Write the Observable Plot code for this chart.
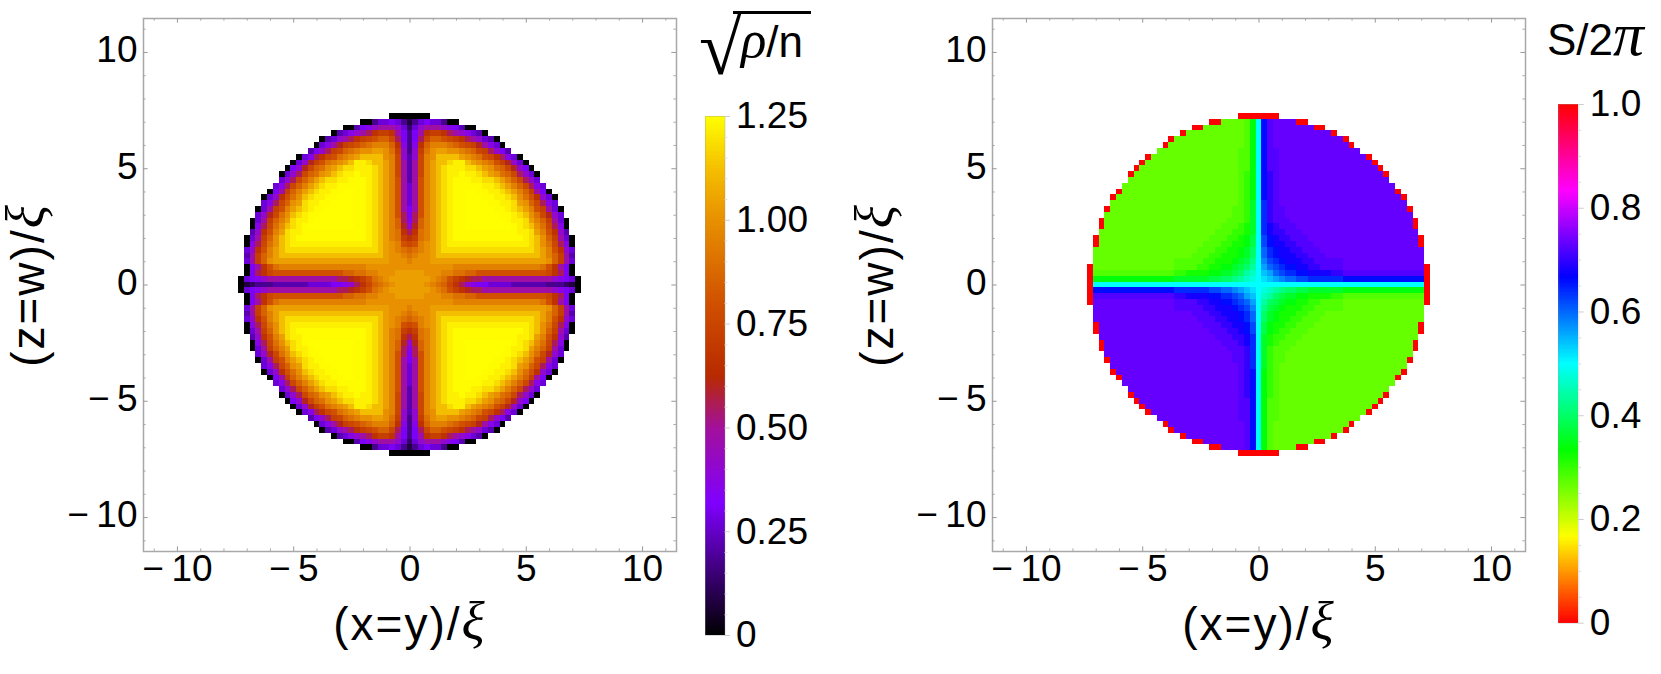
<!DOCTYPE html>
<html>
<head>
<meta charset="utf-8">
<script src="https://cdn.jsdelivr.net/npm/d3@7"></script>
<script src="https://cdn.jsdelivr.net/npm/@observablehq/plot@0.6"></script>
<style>
html,body{margin:0;padding:0;background:#fff;overflow:hidden}
#page{position:relative;width:1661px;height:674px;font-family:"Liberation Sans",sans-serif;color:#000}
#page svg{position:absolute;top:0;background:transparent;overflow:visible}
.title{position:absolute;white-space:nowrap;line-height:1;font-size:44px}
.title i{font-family:"Liberation Serif",serif;font-style:italic;line-height:0}
</style>
</head>
<body>
<div id="page">
  <div class="title" style="left:699px;top:9px;font-family:'Liberation Serif',serif;font-size:78px">√</div>
  <div class="title" style="left:741px;top:20px"><i style="font-size:1.2em">ρ</i>/n</div>
  <div id="rootbar" style="position:absolute;left:733px;top:11px;width:78px;height:3px;background:#000"></div>
  <div class="title" style="left:1547px;top:18px">S/2<i style="font-size:1.4em">π</i></div>
</div>
<script>
// Density sqrt(rho/n), upper-left quadrant, rows from the centre outward, columns from the centre outward.
// Each letter picks one entry of densityLevels.
const densityLevels = [0,0.08,0.13,0.18,0.22,0.27,0.31,0.36,0.41,0.48,0.55,0.6,0.66,0.72,0.76,0.8,0.86,0.9,0.95,1.0,1.04,1.12,1.18,1.22,1.245,1.25];
const densityRows = [
 "uuutsrqomkihggffffeeeeeedddcba",
 "uuuutsrpnmlkkjjjjjjjjjjjjihgfa",
 "uuutttssrrqqppppppppppppomkga",
 "ttttttttsssssssssssssssrpmjga",
 "stttuuuuuuuuuuuuuuuuuuuutqnjf",
 "rsttuvvvvvvvvvvvvvvvvvvusqnje",
 "qrstuvwwwwwwwwwwwwwwwwvuspmif",
 "opstuvwxxxxxxxxxxxxxxwvtrokha",
 "mnrsuvwxyyyyyyyyyyyyxwvtqnjfa",
 "kmrsuvwxyyyyyyyyyyyxxwuspmie",
 "ilqsuvwxyyzzzzzzzzyxwvtrokha",
 "hkqsuvwxyyzzzzzzzyxxwusqnjfa",
 "gkpsuvwxyyzzzzzzyyxwvtrolif",
 "gjpsuvwxyyzzzzzyyxwvuspnjfa",
 "fjpsuvwxyyzzzzyyxxwutqokhf",
 "fjpsuvwxyyzzzyyxxwvtrpmifa",
 "fjpsuvwxyyzzyyxxwvusqnjga",
 "fjpsuvwxyyyyyxxwvusqokhf",
 "ejpsuvwxyyyxxwwvusqokif",
 "ejosuvwxxyxxwvutrqokifa",
 "ejosuvwxxxwwvutrqoliga",
 "ejosuvvwxxvutsrpnlifa",
 "eiostvvvvutsrpomkhfa",
 "dinrtuuttsrqonkige",
 "dhmqsssrqponljhfa",
 "dgkoqqponmkjifea",
 "dgjmnnmkjihfea",
 "cfijjjihgeaa",
 "bdfgffdaa",
 "aaaa"
];
// Phase S/2pi, same quadrant. Each hex digit indexes phaseLevels.
const phaseLevels = [0, 0.267, 0.28, 0.30, 0.32, 0.34, 0.36, 0.38, 0.40, 0.42, 0.44, 0.46, 0.48, 0.50];
const phaseRows = [
 "ddddddddddddddddddddddddddddd0",
 "dcba98877666666555555555555550",
 "dba876655444433222222222222220",
 "da8765544332222111111111111110",
 "d9765444332222211111111111111",
 "d8654443322211111111111111111",
 "d8654433222111111111111111111",
 "d7544332221111111111111111110",
 "d7543322211111111111111111110",
 "d643322211111111111111111111",
 "d643222111111111111111111110",
 "d632221111111111111111111110",
 "d63221111111111111111111111",
 "d63221111111111111111111110",
 "d63211111111111111111111".padEnd(26,"1"),
 "d532111111111111111111111"+"0",
 "d53211111111111111111111"+"0",
 "d53211111111111111111111",
 "d5321111111111111111111",
 "d532111111111111111111"+"0",
 "d52211111111111111111"+"0",
 "d5221111111111111111"+"0",
 "d522111111111111111"+"0",
 "d52211111111111111",
 "d521111111111111"+"0",
 "d52111111111111"+"0",
 "d521111111111"+"0",
 "d52111111100",
 "d52111100",
 "0000"
];
const gridStep = 0.25;
const axisHalfRange = 11.46;
const majorTicks = [-10, -5, 0, 5, 10];
const minorTicks = [-11,-9,-8,-7,-6,-4,-3,-2,-1,1,2,3,4,6,7,8,9,11];
const densityBarStops  = [0, 0.16, 0.318, 0.5, 0.625, 0.8, 1.0, 1.125, 1.25];
const densityBarColors = ["#000000","#40007f","#8000ff","#a3109a","#b82a00","#d05000","#e89000","#f5c000","#ffff00"];
const phaseBarStops  = [0, 0.1667, 0.3333, 0.5, 0.6667, 0.8333, 1];
const phaseBarColors = ["#ff0000","#ffff00","#00ff00","#00ffff","#0000ff","#ff00ff","#ff0000"];
const densityBarMajor = [0, 0.25, 0.5, 0.75, 1, 1.25];
const phaseBarMajor = [0, 0.2, 0.4, 0.6, 0.8, 1];
const densityBarMinor = [0.05,0.1,0.15,0.2,0.3,0.35,0.4,0.45,0.55,0.6,0.65,0.7,0.8,0.85,0.9,0.95,1.05,1.1,1.15,1.2];
const phaseBarMinor = [0.05,0.1,0.15,0.25,0.3,0.35,0.45,0.5,0.55,0.65,0.7,0.75,0.85,0.9,0.95];

const densityValue = ch => densityLevels[ch.charCodeAt(0) - 97];
const phaseValue = ch => phaseLevels[parseInt(ch, 16)];

function expandQuadrant(rows, valueOf, flip) {
  const cells = [];
  rows.forEach((row, r) => {
    [...row].forEach((ch, c) => {
      const v = valueOf(ch);
      for (const sy of r ? [1, -1] : [1]) for (const sx of c ? [-1, 1] : [-1]) {
        // sx=-1,sy=1 is the quadrant that was read
        const same = (sx === -1) === (sy === 1);
        cells.push({x: sx * c * gridStep, y: sy * r * gridStep, v: same ? v : flip(v)});
      }
    });
  });
  return cells;
}

const FONT = "Liberation Sans";
const minus = d => d < 0 ? "\u2212\u2009" + Math.abs(d) : String(d);

function frameTicks(values, len, sw) {
  const e = axisHalfRange;
  return [
    Plot.ruleX(values, {y1: -e, y2: -e + len, stroke: "#999", strokeWidth: sw}),
    Plot.ruleX(values, {y1: e, y2: e - len, stroke: "#999", strokeWidth: sw}),
    Plot.ruleY(values, {x1: -e, x2: -e + len, stroke: "#999", strokeWidth: sw}),
    Plot.ruleY(values, {x1: e, x2: e - len, stroke: "#999", strokeWidth: sw})
  ];
}

function panel({cells, stops, colors, left, width, marginLeft, xLabel, yLabel, yLabelDx}) {
  const svg = Plot.plot({
    width, height: 674,
    marginLeft, marginRight: width - marginLeft - 533, marginTop: 18, marginBottom: 123,
    style: {fontFamily: FONT, background: "transparent", overflow: "visible"},
    x: {domain: [-axisHalfRange, axisHalfRange], axis: null},
    y: {domain: [-axisHalfRange, axisHalfRange], axis: null},
    color: {type: "linear", domain: stops, range: colors, interpolate: "rgb", clamp: true},
    marks: [
      Plot.rect(cells, {
        x1: d => d.x - gridStep / 2, x2: d => d.x + gridStep / 2,
        y1: d => d.y - gridStep / 2, y2: d => d.y + gridStep / 2,
        fill: "v", shapeRendering: "crispEdges"
      }),
      Plot.frame({stroke: "#a8a8a8", strokeWidth: 1.5}),
      ...frameTicks(majorTicks, 0.2, 1),
      ...frameTicks(minorTicks, 0.115, 0.8),
      Plot.axisX(majorTicks, {anchor: "bottom", tickSize: 0, tickPadding: 3, fontSize: 37, tickFormat: minus, label: null, fill: "#000"}),
      Plot.axisY(majorTicks, {anchor: "left", tickSize: 0, tickPadding: 6, fontSize: 37, tickFormat: minus, label: null, fill: "#000", dy: -2}),
      Plot.text([xLabel], {frameAnchor: "bottom", dy: 88, fontSize: 46, fill: "#000"}),
      Plot.text([yLabel], {frameAnchor: "left", textAnchor: "middle", dx: yLabelDx, rotate: -90, fontSize: 46, fill: "#000"})
    ]
  });
  svg.style.left = left + "px";
  d3.select(svg).selectAll("text").filter(function () { return this.textContent.endsWith("ξ"); })
    .each(function () {
      const s = d3.select(this), t = this.textContent;
      s.text(t.slice(0, -1)).attr("letter-spacing", "2px");
      s.append("tspan").attr("font-family", "Liberation Serif").attr("font-style", "italic").attr("font-size", 54).text("ξ");
    });
  document.getElementById("page").appendChild(svg);
}

function colorBar({stops, colors, domain, left, width, barLeft, barWidth, top, bottom, major, minor, fmt, pad}) {
  const n = 400, step = domain[1] / n;
  const ramp = d3.range(n).map(i => (i + 0.5) * step);
  const svg = Plot.plot({
    width, height: 674,
    marginLeft: barLeft - left, marginRight: width - (barLeft - left) - barWidth,
    marginTop: top, marginBottom: 674 - bottom,
    style: {fontFamily: FONT, background: "transparent", overflow: "visible"},
    x: {domain: [0, 1], axis: null},
    y: {domain, axis: null},
    color: {type: "linear", domain: stops, range: colors, interpolate: "rgb", clamp: true},
    marks: [
      Plot.rect(ramp, {x1: 0, x2: 1, y1: d => d - step / 2, y2: d => d + step / 2, fill: d => d, shapeRendering: "crispEdges"}),
      Plot.frame({stroke: "#999", strokeOpacity: 0.35, strokeWidth: 1}),
      Plot.ruleY(major, {x1: 1, x2: 1.27, stroke: "#ccc", strokeWidth: 1}),
      Plot.ruleY(minor, {x1: 1, x2: 1.15, stroke: "#ddd", strokeWidth: 1}),
      Plot.axisY(major, {anchor: "right", tickSize: 0, tickPadding: pad, fontSize: 37, tickFormat: fmt, label: null, fill: "#000"})
    ]
  });
  svg.style.left = left + "px";
  document.getElementById("page").appendChild(svg);
}

panel({
  cells: expandQuadrant(densityRows, densityValue, v => v),
  stops: densityBarStops, colors: densityBarColors,
  left: 0, width: 690, marginLeft: 143,
  xLabel: "(x=y)/ξ", yLabel: "(z=w)/ξ", yLabelDx: -114
});
panel({
  cells: expandQuadrant(phaseRows, phaseValue, v => v === 0 ? 0 : 1 - v),
  stops: phaseBarStops, colors: phaseBarColors,
  left: 830, width: 700, marginLeft: 162,
  xLabel: "(x=y)/ξ", yLabel: "(z=w)/ξ", yLabelDx: -114
});
colorBar({
  stops: densityBarStops, colors: densityBarColors, domain: [0, 1.25],
  left: 695, width: 135, barLeft: 705, barWidth: 19.5, top: 116, bottom: 635,
  major: densityBarMajor, minor: densityBarMinor, pad: 11,
  fmt: d => d === 0 ? "0" : d3.format(".2f")(d)
});
colorBar({
  stops: phaseBarStops, colors: phaseBarColors, domain: [0, 1],
  left: 1548, width: 113, barLeft: 1558.3, barWidth: 20, top: 104, bottom: 622.7,
  major: phaseBarMajor, minor: phaseBarMinor, pad: 11,
  fmt: d => d === 0 ? "0" : d3.format(".1f")(d)
});
</script>
</body>
</html>
